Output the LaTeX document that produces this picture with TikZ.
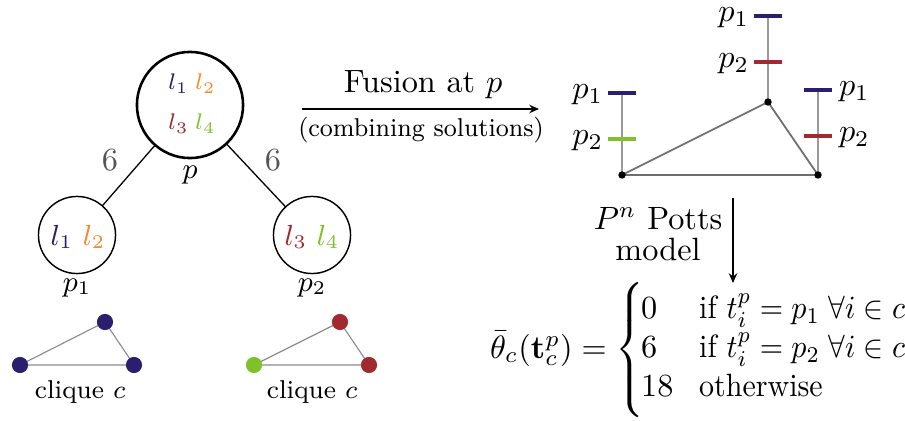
\documentclass[tikz,border=0pt]{standalone}
\usepackage{amsmath}
\usepackage{graphicx}
\usetikzlibrary{arrows.meta}
\pgfdeclarelayer{background}
\pgfsetlayers{background,main}
\definecolor{cnavy}{HTML}{2A1E6E}
\definecolor{corange}{HTML}{F28A2E}
\definecolor{cred}{HTML}{A02A2E}
\definecolor{cgreen}{HTML}{7EC12B}
\definecolor{cnum}{HTML}{555555}
\newcommand{\condtxt}[1]{\scalebox{0.93}[1]{$#1$}}
\begin{document}
\begin{tikzpicture}[x=0.31pt,y=-0.31pt,
  every node/.style={inner sep=0pt, outer sep=0pt},
  bigcirc/.style={circle, draw, line width=0.8pt, minimum size=32.9pt},
  smallcirc/.style={circle, draw, line width=0.45pt, minimum size=23.9pt},
  treeedge/.style={line width=0.4pt},
  dotn/.style={circle, fill=#1, minimum size=5pt},
  cliqueedge/.style={draw=black!45, line width=0.35pt},
  tridot/.style={circle, fill=black, minimum size=2.3pt},
  triedge/.style={draw=black!57, line width=0.55pt},
  vline/.style={draw=black!40, line width=0.35pt},
  tick/.style={rectangle, fill=#1, minimum width=8.4pt, minimum height=1.2pt},
  arr/.style={line width=0.5pt, -{Stealth[length=3pt,width=2.6pt]}},
  wlabel/.style={font=\scriptsize, anchor=base west},
  numlab/.style={text=cnum},
]
\useasboundingbox (0,0) rectangle (905,421);

% tree
\node[bigcirc] (p) at (190,105) {};
\node[smallcirc] (p1) at (77,235) {};
\node[smallcirc] (p2) at (312,235) {};
\draw[treeedge] (p) -- (p1);
\draw[treeedge] (p) -- (p2);

\node[wlabel, text=cnavy] (l1) at (168,90) {$l_1$};
\node[wlabel, text=corange] (l2) at (195,90) {$l_2$};
\node[wlabel, text=cred] (l3) at (168,130) {$l_3$};
\node[wlabel, text=cgreen] (l4) at (195,130) {$l_4$};

\node[font=\small, anchor=base] (q1) at (78,245) {$\color{cnavy}l_1\ \color{corange}l_2$};
\node[font=\small, anchor=base] (q2) at (312,245) {$\color{cred}l_3\ \color{cgreen}l_4$};

\node[font=\small] (plab) at (190,175) {$p$};
\node[font=\small] (p1lab) at (77,288) {$p_1$};
\node[font=\small] (p2lab) at (312,288) {$p_2$};

\node[numlab] (w1) at (110,160) {6};
\node[numlab] (w2) at (273,160) {6};

% cliques
\node[dotn=cnavy] (a1) at (20,365) {};
\node[dotn=cnavy] (a2) at (105,322) {};
\node[dotn=cnavy] (a3) at (134,365) {};
\node[dotn=cgreen] (b1) at (254,365) {};
\node[dotn=cred] (b2) at (340,322) {};
\node[dotn=cred] (b3) at (369,365) {};
\begin{pgfonlayer}{background}
\draw[cliqueedge] (a1.center) -- (a2.center) -- (a3.center) -- cycle;
\draw[cliqueedge] (b1.center) -- (b2.center) -- (b3.center) -- cycle;
\end{pgfonlayer}
\node[font=\footnotesize] (c1) at (80,392) {clique $c$};
\node[font=\footnotesize] (c2) at (312,392) {clique $c$};

% fusion arrow
\coordinate (fa) at (302,109);
\coordinate (fb) at (539,109);
\draw[arr] (fa) -- (fb);
\node[anchor=base] (fus) at (423,93) {Fusion at $p$};
\node[anchor=base, font=\footnotesize] (comb) at (421,137) {\scalebox{0.95}[1]{(combining solutions)}};

% right triangle
\node[tridot] (r1) at (622,175) {};
\node[tridot] (r2) at (768,102) {};
\node[tridot] (r3) at (818,175) {};
\node[tick=cnavy] (t1a) at (622,93) {};
\node[tick=cgreen] (t1b) at (622,139) {};
\node[tick=cnavy] (t2a) at (768,16) {};
\node[tick=cred] (t2b) at (768,62) {};
\node[tick=cnavy] (t3a) at (818,90) {};
\node[tick=cred] (t3b) at (818,136) {};
\begin{pgfonlayer}{background}
\draw[triedge] (r1.center) -- (r2.center) -- (r3.center) -- cycle;
\draw[vline] (r1.center) -- (t1a.center);
\draw[vline] (r2.center) -- (t2a.center);
\draw[vline] (r3.center) -- (t3a.center);
\end{pgfonlayer}
\node[anchor=base east] (lt1a) at (603,98.5) {$p_1$};
\node[anchor=base east] (lt1b) at (603,144.5) {$p_2$};
\node[anchor=base east] (lt2a) at (749,21.5) {$p_1$};
\node[anchor=base east] (lt2b) at (749,67.5) {$p_2$};
\node[anchor=base west] (lt3a) at (839,95.5) {$p_1$};
\node[anchor=base west] (lt3b) at (839,141.5) {$p_2$};

% Potts arrow
\coordinate (da) at (733,198);
\coordinate (db) at (733,283);
\draw[arr] (da) -- (db);
\node[align=center, font=\fontsize{10}{9.6}\selectfont] (potts) at (658,234) {$P^n$ Potts\\model};

% equation
\node[anchor=base west] (eq) at (490,358) {$\bar{\theta}_c(\mathbf{t}^p_c) \mathrel{=}
  \left\{\vcenter{\hbox{\rule{0pt}{44pt}}}\begin{array}{@{\hspace{-1pt}}l@{\hspace{8pt}}l@{}}
  0 & \condtxt{\text{if } t_i^p = p_1\;\forall i \in c}\\
  6 & \condtxt{\text{if } t_i^p = p_2\;\forall i \in c}\\
  18 & \condtxt{\text{otherwise}}
  \end{array}\right.$};
\end{tikzpicture}
\end{document}
